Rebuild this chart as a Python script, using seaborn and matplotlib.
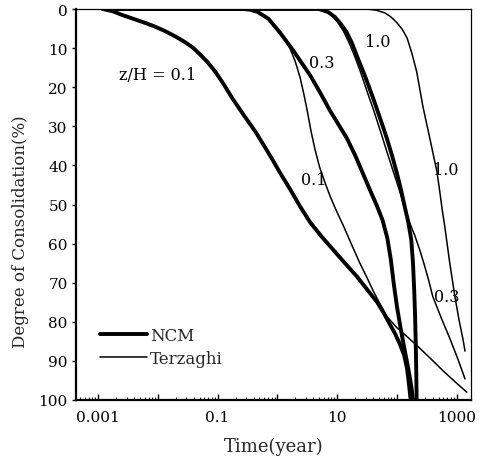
import matplotlib
matplotlib.use("Agg")
import matplotlib.pyplot as plt
from matplotlib.ticker import LogLocator, NullFormatter
import pandas as pd
import seaborn as sns

# Degree of consolidation (%) versus time (year) at depths z/H = 0.1, 0.3, 1.0
ncm_01_time = [0.0012, 0.00178, 0.0025, 0.0037, 0.0055, 0.0083, 0.0126, 0.019,
               0.028, 0.038, 0.05, 0.068, 0.091, 0.126, 0.174, 0.27, 0.43, 0.59,
               0.79, 1.12, 1.62, 2.4, 3.55, 5.5, 8.5, 13.5, 21.4, 31.6, 46.8, 60,
               76, 93, 112, 132, 148, 158, 170]
ncm_01_degree = [0, 0.6, 1.5, 2.4, 3.3, 4.3, 5.5, 6.9,
                 8.4, 9.8, 11.5, 13.6, 16, 19.2, 22.7, 27, 31.4, 34.8,
                 38, 42, 46, 50.5, 54.6, 58.2, 61.5, 65, 68.4, 71.7, 75, 77.7,
                 80.6, 83, 85.7, 88.5, 92, 95.5, 100]

ncm_03_time = [0.0012, 0.27, 0.355, 0.46, 0.71, 1.1, 1.41, 1.82, 2.5, 3.55,
               5.25, 7.6, 10.5, 14.5, 20, 26.9, 35.5, 46.8, 57.5, 69, 79, 89,
               100, 115, 132, 151, 166, 178, 186]
ncm_03_degree = [0, 0, 0.2, 0.7, 2.5, 6, 8.2, 10.5, 13.6, 17,
                 21.5, 26, 29.5, 33, 37.4, 42, 46.3, 50.5, 54, 58.5, 64, 70.5,
                 76, 81.5, 86.5, 91, 94.5, 97.5, 100]

ncm_10_time = [0.0012, 5.0, 7.1, 9.1, 11.5, 14.5, 17.8, 21.4, 29.5, 39.8,
               52.5, 67.6, 83, 100, 117, 135, 155, 174, 186, 195, 202, 207,
               211, 214]
ncm_10_degree = [0, 0, 0.8, 2, 3.8, 6, 8.8, 12, 17.3, 22.7,
                 28, 33, 37.5, 42, 46.2, 50.5, 54.5, 59, 65, 72, 79, 86,
                 93, 100]

terz_01_time = [0.0012, 0.25, 0.355, 0.5, 0.71, 1.0, 1.26, 1.62, 2.0, 2.4,
                2.75, 3.16, 3.63, 4.27, 5.1, 6.3, 7.6, 8.9, 10.7, 12.6, 17.4,
                24, 31.6, 39.8, 52.5, 67.6, 100, 148, 214, 355, 589, 933, 1480]
terz_01_degree = [0, 0, 0.3, 1, 2.6, 5, 7.2, 10, 13.5, 17.5,
                  21.5, 26, 31, 36, 40.5, 44.5, 47.8, 50.3, 53, 55.3, 60.2,
                  65, 68.7, 72, 75.5, 78.6, 81.5, 83.8, 86, 89.2, 92.5, 95.3, 98]

terz_03_time = [0.0012, 4.5, 6.3, 7.9, 10, 12.6, 15.5, 19, 24.5, 31.6, 41.7,
                53.7, 69, 89, 110, 132, 162, 200, 240, 282, 339, 398, 562,
                776, 1047, 1380]
terz_03_degree = [0, 0, 0.5, 1.5, 3.2, 5.5, 8.3, 11.5, 16, 21, 26.3,
                  31.5, 36.8, 42, 46.3, 50.5, 54.5, 58, 61.5, 65, 69.3, 73.5, 79.3,
                  84.4, 89.5, 94.6]

terz_10_time = [0.0012, 31.6, 44.7, 63, 79, 100, 123, 148, 178, 214, 240,
                269, 309, 355, 407, 468, 525, 575, 631, 759, 933, 1096, 1259,
                1380]
terz_10_degree = [0, 0, 0.3, 1, 2, 3.5, 5.2, 7.4, 11.3, 16, 20.2,
                  24.5, 28.8, 33, 37.3, 41.6, 47, 51.5, 55.5, 64.5, 73.5, 79.5, 84,
                  87.5]

x_tick_values = [0.001, 0.01, 0.1, 1, 10, 100, 1000]
x_tick_labels = ["0.001", "", "0.1", "", "10", "", "1000"]
y_tick_values = list(range(0, 101, 10))

series = [
    ("NCM", "0.1", ncm_01_time, ncm_01_degree),
    ("NCM", "0.3", ncm_03_time, ncm_03_degree),
    ("NCM", "1.0", ncm_10_time, ncm_10_degree),
    ("Terzaghi", "0.1", terz_01_time, terz_01_degree),
    ("Terzaghi", "0.3", terz_03_time, terz_03_degree),
    ("Terzaghi", "1.0", terz_10_time, terz_10_degree),
]
frames = []
for model, depth, t, u in series:
    frames.append(pd.DataFrame({"time": t, "degree": u, "model": model, "depth": depth}))
df = pd.concat(frames, ignore_index=True)

sns.set_theme(style="ticks")
plt.rcParams["font.family"] = ["DejaVu Serif"]

fig = plt.figure(figsize=(4.81, 4.60), dpi=100)
ax = fig.add_axes([76 / 481, 59 / 460, 395 / 481, 391 / 460])

widths = {"NCM": 2.8, "Terzaghi": 1.1}
labelled = set()
for (model, depth), sub in df.groupby(["model", "depth"], sort=False):
    lab = model if model not in labelled else "_nolegend_"
    labelled.add(model)
    sns.lineplot(data=sub, x="time", y="degree", ax=ax, color="black",
                 linewidth=widths[model], estimator=None, sort=False,
                 label=lab, legend=False)

ax.set_xscale("log")
ax.set_xlim(0.000427, 1738)
ax.set_ylim(100, 0)
ax.set_xticks(x_tick_values)
ax.set_xticklabels(x_tick_labels)
ax.xaxis.set_minor_locator(LogLocator(base=10, subs=range(2, 10), numticks=50))
ax.xaxis.set_minor_formatter(NullFormatter())
ax.set_yticks(y_tick_values)

ax.tick_params(axis="y", direction="out", length=3, width=1, labelsize=11, pad=3, colors="black")
ax.tick_params(axis="x", which="major", direction="in", length=4, width=1, labelsize=11, pad=7.5, colors="black")
ax.tick_params(axis="x", which="minor", direction="in", length=2.5, width=0.8)

for side in ("left", "bottom"):
    ax.spines[side].set_linewidth(1.6)
for side in ("top", "right"):
    ax.spines[side].set_linewidth(0.9)
for s in ax.spines.values():
    s.set_color("black")
    s.set_visible(True)

ax.set_xlabel("Time(year)", fontsize=13)
ax.set_ylabel("Degree of Consolidation(%)", fontsize=12)
ax.xaxis.set_label_coords(0.5, -0.095)
ax.yaxis.set_label_coords(-0.12, 0.432)

# depth annotations next to the curves
notes = [("z/H = 0.1", 0.01, 16.8), ("0.3", 5.6, 13.8), ("1.0", 48, 8.4),
         ("0.1", 4.0, 43.6), ("1.0", 660, 41), ("0.3", 690, 73.5)]
for txt, xv, yv in notes:
    ax.text(xv, yv, txt, fontsize=11.5, ha="center", va="center", color="black")

ax.legend(loc="upper left", bbox_to_anchor=(0.061, 0.187), frameon=False,
          fontsize=12, handlelength=2.8, handletextpad=0.2, labelspacing=0.35,
          borderpad=0, borderaxespad=0)

fig.savefig("out.png", dpi=100)
